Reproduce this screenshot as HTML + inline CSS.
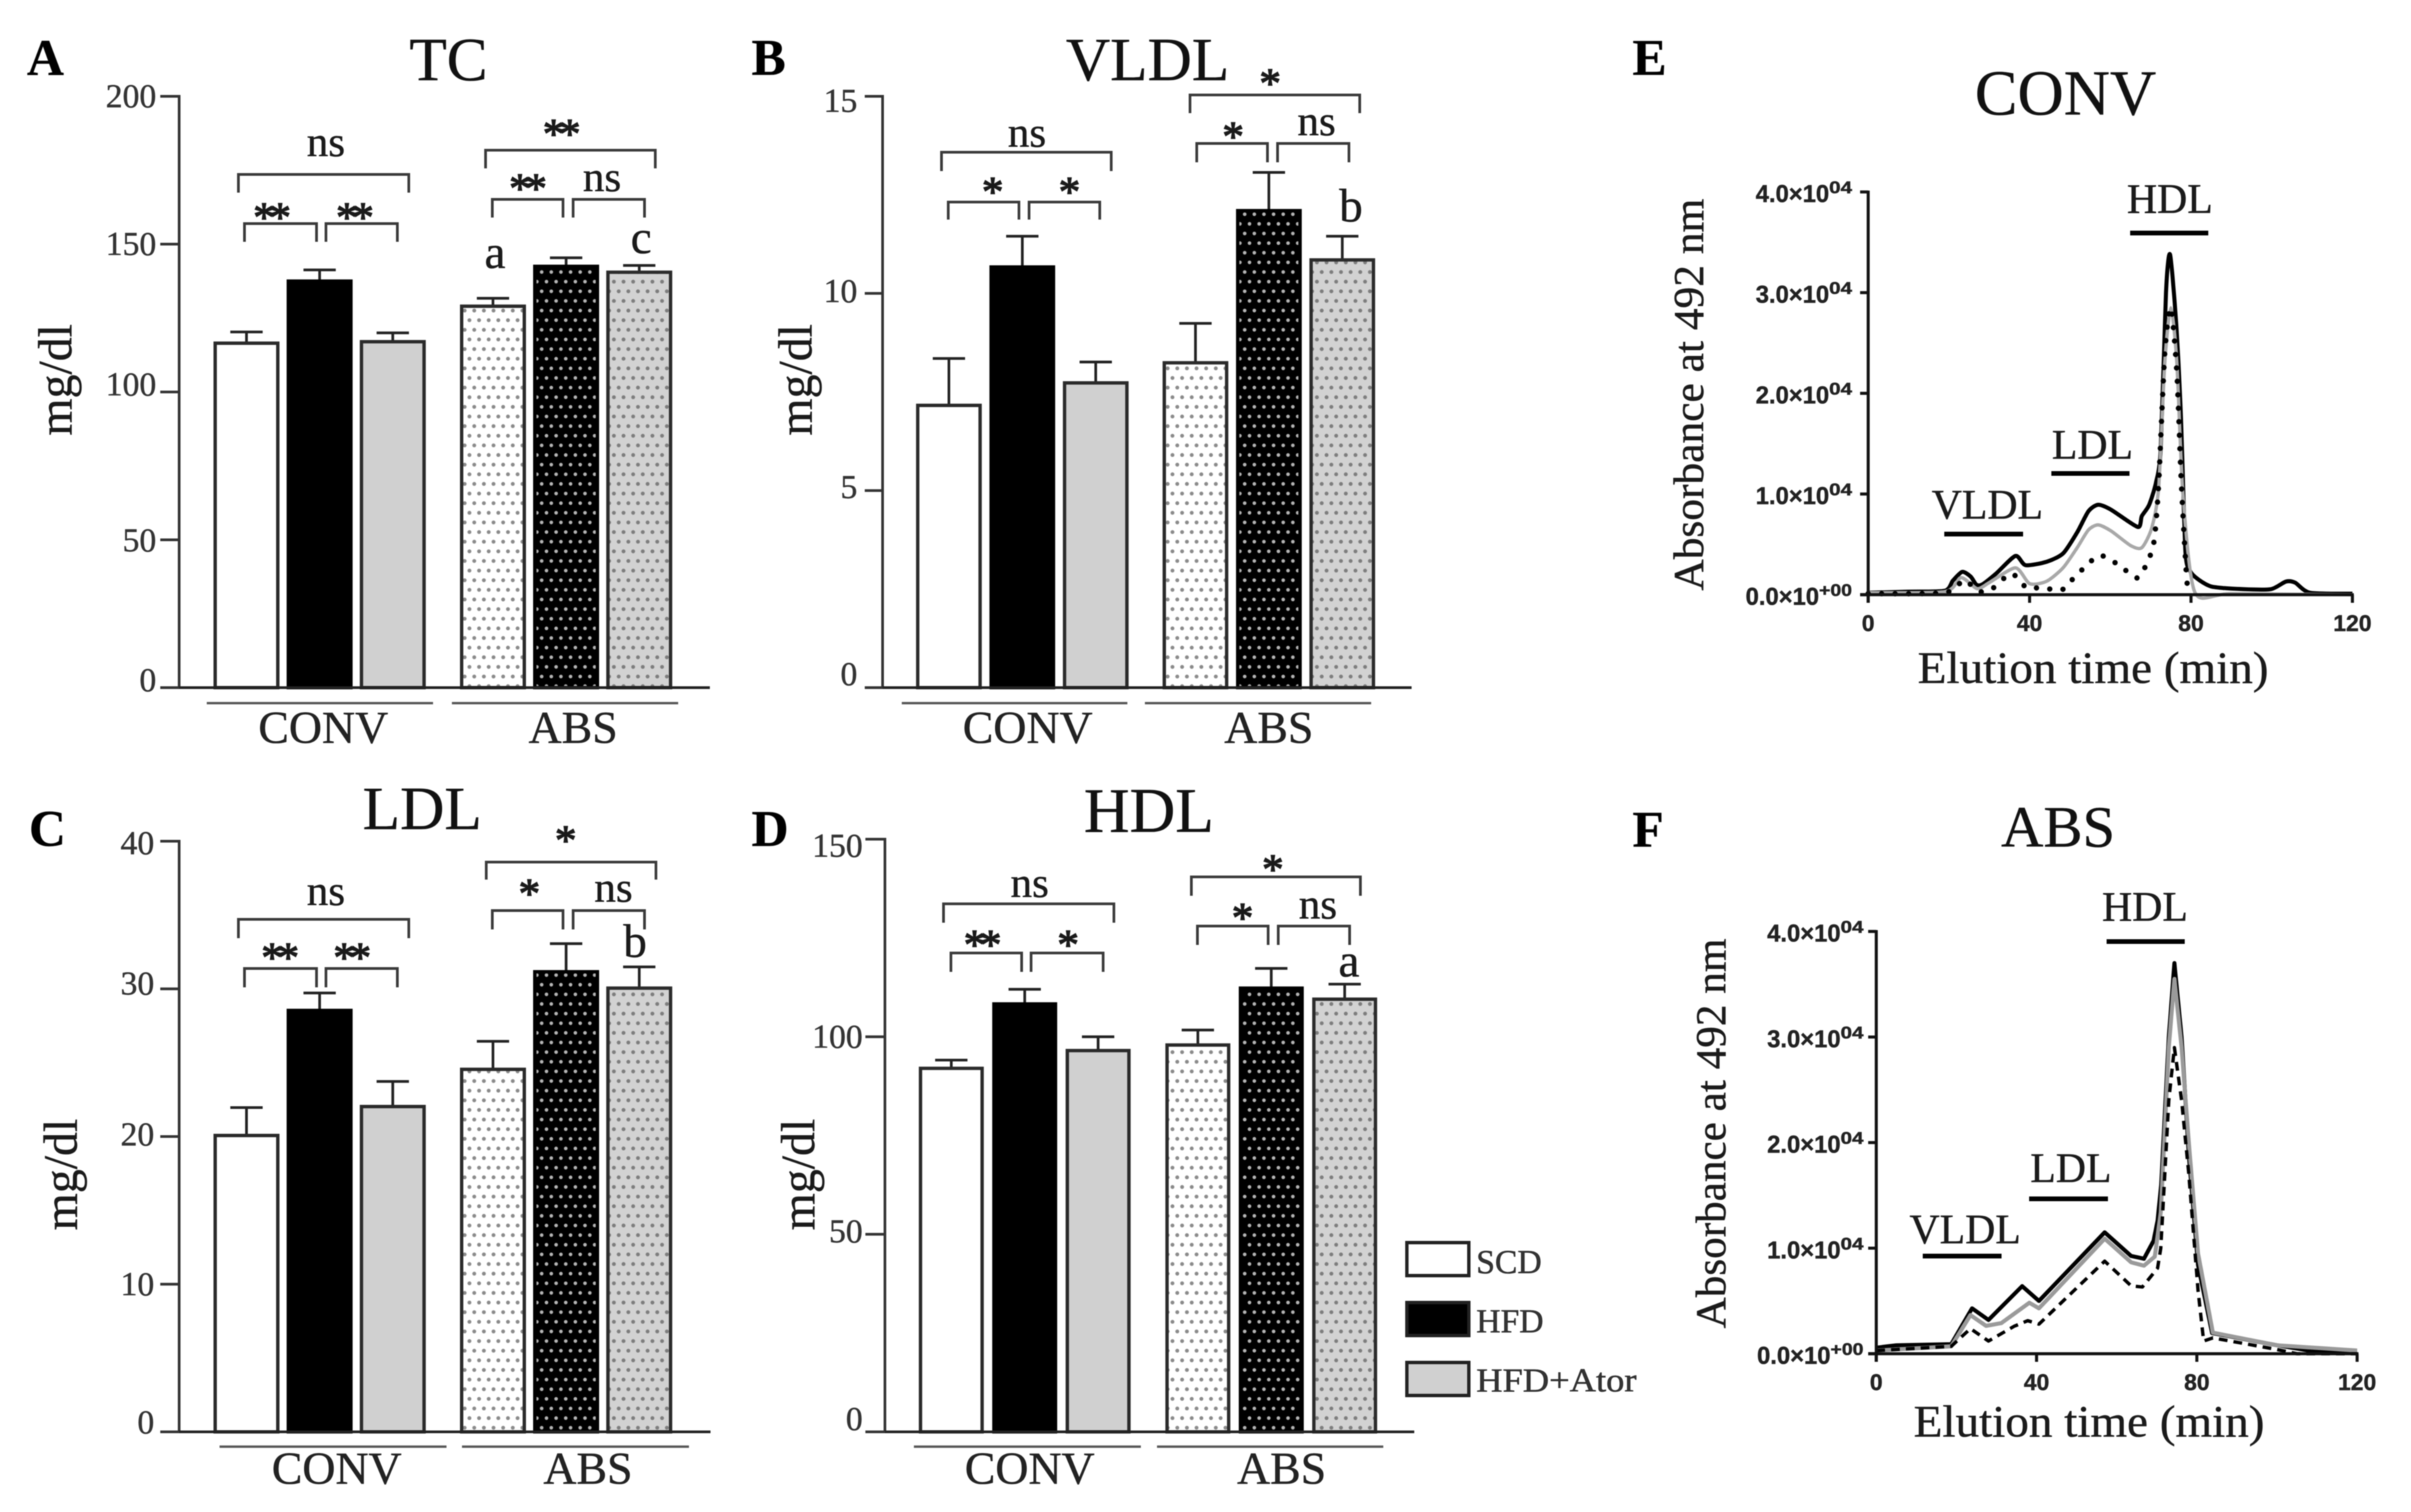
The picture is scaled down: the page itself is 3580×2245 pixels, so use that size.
<!DOCTYPE html>
<html lang="en">
<head>
<meta charset="utf-8">
<title>Lipid profile bar charts and elution profiles</title>
<style>
html,body{margin:0;padding:0;background:#fff;}
body{width:3580px;height:2245px;overflow:hidden;}
svg{display:block;filter:blur(0.9px);}
text{font-family:"Liberation Serif",serif;fill:#1a1a1a;stroke:#1a1a1a;stroke-width:0.6;}
.letter{font-size:76px;font-weight:bold;fill:#000;}
.title{font-size:91px;text-anchor:middle;fill:#111;}
.ylab{font-size:71px;text-anchor:middle;}
.abs{font-size:63px;text-anchor:middle;}
.elu{font-size:67px;text-anchor:middle;}
.group{font-size:68px;text-anchor:middle;fill:#222;}
.ns{font-size:64px;text-anchor:middle;}
.star{font-size:64px;text-anchor:middle;letter-spacing:-8px;stroke-width:1.8;}
.sig{font-size:70px;text-anchor:middle;}
.frac{font-size:60px;text-anchor:middle;}
.leg{font-size:50px;fill:#333;}
.tick{font-size:50px;text-anchor:end;fill:#333;stroke:#333;}
.brk{fill:none;stroke:#3a3a3a;stroke-width:4;}
.grp{stroke:#555;stroke-width:3.5;}
.bar-line{stroke:#000;stroke-width:7;}
.btick{font-family:"Liberation Sans",sans-serif;font-weight:bold;fill:#222;stroke:#222;}
</style>
</head>
<body>
<svg id="fig" xmlns="http://www.w3.org/2000/svg" width="3580" height="2245" viewBox="0 0 3580 2245">
<defs>
<pattern id="dotWhite" patternUnits="userSpaceOnUse" width="14.3" height="28.6"><rect width="14.3" height="28.6" fill="#fff"/><circle cx="3.5" cy="3.5" r="2.9" fill="#8a8a8a"/><circle cx="10.65" cy="17.8" r="2.9" fill="#8a8a8a"/></pattern>
<pattern id="dotBlack" patternUnits="userSpaceOnUse" width="14.3" height="28.6"><rect width="14.3" height="28.6" fill="#000"/><circle cx="3.5" cy="3.5" r="2.7" fill="#b5b5b5"/><circle cx="10.65" cy="17.8" r="2.7" fill="#b5b5b5"/></pattern>
<pattern id="dotGray" patternUnits="userSpaceOnUse" width="14.3" height="28.6"><rect width="14.3" height="28.6" fill="#d2d2d2"/><circle cx="3.5" cy="3.5" r="2.9" fill="#7d7d7d"/><circle cx="10.65" cy="17.8" r="2.9" fill="#7d7d7d"/></pattern>
</defs>

<rect width="3580" height="2245" fill="#fff"/>

<!-- Panel A static text and annotations -->
<g>
<text class="letter" x="40" y="111">A</text>
<text class="title" x="666" y="119">TC</text>
<text class="ylab" transform="translate(106,564) rotate(-90)">mg/dl</text>
<path class="brk" d="M354 286V259H607V286"/>
<path class="brk" d="M363 359V332H470V359"/>
<path class="brk" d="M484 359V332H590V359"/>
<path class="brk" d="M721 250V223H973V250"/>
<path class="brk" d="M731 323V296H836V323"/>
<path class="brk" d="M851 323V296H957V323"/>
<text class="ns" x="484" y="232">ns</text>
<text class="star" x="400" y="344">**</text>
<text class="star" x="523" y="344">**</text>
<text class="star" x="830" y="220">**</text>
<text class="star" x="780" y="301">**</text>
<text class="ns" x="894" y="284">ns</text>
<text class="sig" x="735" y="398">a</text>
<text class="sig" x="952" y="376">c</text>
<line class="grp" x1="307" y1="1044" x2="643" y2="1044"/>
<line class="grp" x1="671" y1="1044" x2="1007" y2="1044"/>
<text class="group" x="480" y="1103">CONV</text>
<text class="group" x="851" y="1103">ABS</text>
</g>

<!-- Panel B -->
<g>
<text class="letter" x="1116" y="111">B</text>
<text class="title" x="1704" y="119">VLDL</text>
<text class="ylab" transform="translate(1205,564) rotate(-90)">mg/dl</text>
<path class="brk" d="M1398 254V226H1650V254"/>
<path class="brk" d="M1408 326V300H1513V326"/>
<path class="brk" d="M1528 326V300H1633V326"/>
<path class="brk" d="M1767 168V141H2019V168"/>
<path class="brk" d="M1777 241V213H1882V241"/>
<path class="brk" d="M1897 241V213H2003V241"/>
<text class="ns" x="1525" y="218">ns</text>
<text class="star" x="1470" y="306">*</text>
<text class="star" x="1584" y="306">*</text>
<text class="star" x="1882" y="145">*</text>
<text class="star" x="1827" y="224">*</text>
<text class="ns" x="1955" y="201">ns</text>
<text class="sig" x="2006" y="329">b</text>
<line class="grp" x1="1339" y1="1044" x2="1674" y2="1044"/>
<line class="grp" x1="1700" y1="1044" x2="2036" y2="1044"/>
<text class="group" x="1526" y="1103">CONV</text>
<text class="group" x="1884" y="1103">ABS</text>
</g>

<!-- Panel C -->
<g>
<text class="letter" x="43" y="1256">C</text>
<text class="title" x="627" y="1231">LDL</text>
<text class="ylab" transform="translate(114,1744) rotate(-90)">mg/dl</text>
<path class="brk" d="M354 1393V1365H607V1393"/>
<path class="brk" d="M363 1466V1438H470V1466"/>
<path class="brk" d="M484 1466V1438H590V1466"/>
<path class="brk" d="M722 1306V1280H974V1306"/>
<path class="brk" d="M731 1380V1352H836V1380"/>
<path class="brk" d="M851 1380V1352H957V1380"/>
<text class="ns" x="484" y="1344">ns</text>
<text class="star" x="412" y="1443">**</text>
<text class="star" x="519" y="1443">**</text>
<text class="star" x="836" y="1269">*</text>
<text class="star" x="782" y="1348">*</text>
<text class="ns" x="911" y="1339">ns</text>
<text class="sig" x="943" y="1421">b</text>
<line class="grp" x1="326" y1="2148" x2="663" y2="2148"/>
<line class="grp" x1="686" y1="2148" x2="1023" y2="2148"/>
<text class="group" x="500" y="2203">CONV</text>
<text class="group" x="873" y="2203">ABS</text>
</g>

<!-- Panel D -->
<g>
<text class="letter" x="1116" y="1256">D</text>
<text class="title" x="1706" y="1235" style="font-size:94px">HDL</text>
<text class="ylab" transform="translate(1209,1744) rotate(-90)">mg/dl</text>
<path class="brk" d="M1401 1370V1342H1654V1370"/>
<path class="brk" d="M1412 1443V1415H1517V1443"/>
<path class="brk" d="M1531 1443V1415H1638V1443"/>
<path class="brk" d="M1769 1330V1302H2020V1330"/>
<path class="brk" d="M1778 1403V1375H1883V1403"/>
<path class="brk" d="M1898 1403V1375H2004V1403"/>
<text class="ns" x="1529" y="1332">ns</text>
<text class="star" x="1455" y="1424">**</text>
<text class="star" x="1582" y="1424">*</text>
<text class="star" x="1886" y="1312">*</text>
<text class="star" x="1841" y="1384">*</text>
<text class="ns" x="1957" y="1364">ns</text>
<text class="sig" x="2003" y="1450">a</text>
<line class="grp" x1="1357" y1="2148" x2="1694" y2="2148"/>
<line class="grp" x1="1718" y1="2148" x2="2054" y2="2148"/>
<text class="group" x="1529" y="2203">CONV</text>
<text class="group" x="1903" y="2203">ABS</text>
</g>

<!-- Legend -->
<g>
<g>
<rect x="2089" y="1845" width="92" height="49" fill="#fff" stroke="#222" stroke-width="5"/>
<text class="leg" x="2192" y="1890">SCD</text>
</g>
<g>
<rect x="2089" y="1934" width="92" height="49" fill="#000" stroke="#222" stroke-width="5"/>
<text class="leg" x="2192" y="1978">HFD</text>
</g>
<g>
<rect x="2089" y="2023" width="92" height="49" fill="#d0d0d0" stroke="#222" stroke-width="5"/>
<text class="leg" x="2192" y="2066" textLength="238" lengthAdjust="spacingAndGlyphs">HFD+Ator</text>
</g>
</g>

<!-- Panel E -->
<g>
<text class="letter" x="2424" y="111">E</text>
<text class="title" x="3067" y="170" style="font-size:95px">CONV</text>
<text class="abs" transform="translate(2529,586) rotate(-90)" textLength="582" lengthAdjust="spacingAndGlyphs">Absorbance at 492 nm</text>
<text class="elu" x="3108" y="1014" textLength="521" lengthAdjust="spacingAndGlyphs">Elution time (min)</text>
<text class="frac" x="2951" y="770" style="font-size:62px">VLDL</text>
<line class="bar-line" x1="2887" y1="793" x2="3004" y2="793"/>
<text class="frac" x="3107" y="681" style="font-size:62px">LDL</text>
<line class="bar-line" x1="3046" y1="703" x2="3162" y2="703"/>
<text class="frac" x="3222" y="316" style="font-size:62px">HDL</text>
<line class="bar-line" x1="3163" y1="346" x2="3279" y2="346"/>
</g>

<!-- Panel F -->
<g>
<text class="letter" x="2424" y="1257">F</text>
<text class="title" x="3056" y="1257" style="font-size:87px">ABS</text>
<text class="abs" transform="translate(2562,1683) rotate(-90)" textLength="579" lengthAdjust="spacingAndGlyphs">Absorbance at 492 nm</text>
<text class="elu" x="3102" y="2133" textLength="521" lengthAdjust="spacingAndGlyphs">Elution time (min)</text>
<text class="frac" x="2918" y="1846" style="font-size:62px">VLDL</text>
<line class="bar-line" x1="2855" y1="1865" x2="2972" y2="1865"/>
<text class="frac" x="3075" y="1755" style="font-size:62px">LDL</text>
<line class="bar-line" x1="3013" y1="1780" x2="3130" y2="1780"/>
<text class="frac" x="3185" y="1367" style="font-size:62px">HDL</text>
<line class="bar-line" x1="3128" y1="1398" x2="3244" y2="1398"/>
</g>
</svg>

<script>
// ---------- Bar chart data ----------
const treatments = ['SCD', 'HFD', 'HFD+Ator', 'SCD', 'HFD', 'HFD+Ator'];
const cohorts = ['conv', 'conv', 'conv', 'abs', 'abs', 'abs'];

const tcMeans = [116.5, 137.5, 117, 129, 142.5, 140.5];
const tcUpper = [120.3, 141.3, 120, 131.7, 145.4, 142.8];
const tcTicks = [0, 50, 100, 150, 200];

const vldlMeans = [7.16, 10.67, 7.73, 8.24, 12.1, 10.85];
const vldlUpper = [8.35, 11.45, 8.26, 9.24, 13.07, 11.45];
const vldlTicks = [0, 5, 10, 15];

const ldlMeans = [20.07, 28.54, 22.03, 24.55, 31.16, 30.05];
const ldlUpper = [21.96, 29.72, 23.73, 26.45, 33.06, 31.49];
const ldlTicks = [0, 10, 20, 30, 40];

const hdlMeans = [92, 108.3, 96.5, 97.9, 112.3, 109.5];
const hdlUpper = [94.1, 112, 100, 101.7, 117.3, 113.3];
const hdlTicks = [0, 50, 100, 150];

// ---------- Elution profile data: time in min, absorbance in units of 1e4 ----------
const elutionXTicks = [0, 40, 80, 120];
const elutionYTicks = [0, 1, 2, 3, 4];
const elutionYLabels = ['0.0×10', '1.0×10', '2.0×10', '3.0×10', '4.0×10'];
const elutionYExps = ['+00', '04', '04', '04', '04'];

const convHfdTime = [0, 10, 19, 21, 23.3, 25.4, 26.8, 28.2, 31.7, 36.5, 39, 44.2, 48.3, 51.8, 54.6, 57, 60.2, 66.8, 67.8, 69.6, 71.3, 72.5, 73.8, 74.8, 76.3, 77.5, 78.6, 79.7, 81.7, 85.2, 92.9, 99.8, 103.5, 105.8, 109.5, 120];
const convHfdAbs = [0.02, 0.03, 0.04, 0.14, 0.227, 0.18, 0.1, 0.1, 0.21, 0.385, 0.293, 0.327, 0.41, 0.62, 0.83, 0.893, 0.844, 0.673, 0.78, 0.89, 1.11, 1.45, 3.0, 3.38, 2.71, 1.77, 0.44, 0.24, 0.155, 0.08, 0.055, 0.055, 0.13, 0.12, 0.02, 0.01];

const convAtorTime = [0, 19, 23, 27, 30, 36.5, 40, 44.2, 48.3, 51.8, 54.6, 57, 60.2, 65, 67.8, 70.3, 72, 73.5, 75, 76.5, 78, 81, 90, 120];
const convAtorAbs = [0.02, 0.03, 0.17, 0.06, 0.12, 0.267, 0.11, 0.133, 0.267, 0.467, 0.644, 0.693, 0.633, 0.489, 0.467, 0.667, 1.07, 2.3, 2.85, 2.3, 1.0, 0.02, 0.01, 0];

const convScdTime = [0, 19, 23.6, 26, 28.2, 31, 35.5, 39.3, 42.8, 47.7, 49.7, 53.2, 57.4, 62.3, 66.8, 69.9, 71, 72, 73.5, 75, 76.5, 77.6, 79, 80];
const convScdAbs = [0.01, 0.02, 0.144, 0.078, 0.027, 0.067, 0.21, 0.067, 0.07, 0.044, 0.115, 0.255, 0.39, 0.29, 0.167, 0.39, 0.578, 1.11, 2.4, 2.85, 2.2, 1.11, 0.13, 0.02];

const absHfdTime = [0, 5, 18.7, 23.9, 28, 36.4, 40.6, 57, 63.6, 66.8, 69.2, 70.2, 71.1, 73, 74.4, 76.2, 78, 80.3, 83.8, 100, 108, 120];
const absHfdAbs = [0.057, 0.08, 0.09, 0.43, 0.32, 0.64, 0.5, 1.15, 0.926, 0.9, 1.07, 1.26, 1.6, 3.0, 3.7, 3.0, 1.88, 0.84, 0.196, 0.08, 0.03, 0.02];

const absAtorTime = [0, 18.7, 23.5, 27.4, 31.2, 38.2, 40.6, 57, 63.6, 66.8, 69.5, 71, 73, 74.4, 76.2, 78, 80.3, 84, 100, 120];
const absAtorAbs = [0.03, 0.07, 0.366, 0.264, 0.29, 0.483, 0.43, 1.09, 0.866, 0.834, 0.92, 1.34, 2.9, 3.55, 2.9, 2.0, 0.95, 0.2, 0.08, 0.03];

const absScdTime = [0, 18.7, 23.5, 28, 34.4, 37.8, 40.6, 57, 63.6, 66.4, 70.2, 71, 73, 74.4, 76.2, 78, 80.3, 81.7, 84, 100, 105, 120];
const absScdAbs = [0.03, 0.07, 0.238, 0.12, 0.26, 0.313, 0.28, 0.877, 0.643, 0.632, 0.81, 1.0, 2.4, 2.9, 2.4, 1.7, 0.6, 0.12, 0.15, 0.04, 0, 0];

// ---------- Drawing ----------
const SVGNS = 'http://www.w3.org/2000/svg';
const fig = document.getElementById('fig');

function node(parent, tag, props) {
  const el = document.createElementNS(SVGNS, tag);
  for (const k in props) el.setAttribute(k, props[k]);
  parent.appendChild(el);
  return el;
}

function drawBarPanel(id, means, upper, ticks, p) {
  const g = node(fig, 'g', {});
  
  
  const maxV = ticks[ticks.length - 1];
  const yScale = v => p.bottom - (v / maxV) * (p.bottom - p.top);
  const xLeft = i => p.starts[cohorts[i] === 'conv' ? 0 : 1] + (i % 3) * p.step;

  means.forEach((m, i) => {
    const cx = xLeft(i) + p.width / 2;
    const err = node(g, 'path', {
      d: `M${cx} ${yScale(m)}V${yScale(upper[i])}M${cx - 24} ${yScale(upper[i])}H${cx + 24}`,
      fill: 'none', stroke: '#222', 'stroke-width': 4
    });
    
    

    const isAbs = cohorts[i] === 'abs';
    const t = treatments[i];
    let fill;
    if (t === 'SCD') fill = isAbs ? 'url(#dotWhite)' : '#fff';
    else if (t === 'HFD') fill = isAbs ? 'url(#dotBlack)' : '#000';
    else fill = isAbs ? 'url(#dotGray)' : '#d0d0d0';
    const bar = node(g, 'rect', {
      x: xLeft(i) + 2.5, y: yScale(m), width: p.width - 5, height: p.bottom - yScale(m),
      fill: fill, stroke: t === 'HFD' ? '#000' : '#2a2a2a', 'stroke-width': 5
    });
    
    
  });

  const axisY = node(g, 'line', { x1: p.axisX, y1: p.top - 2, x2: p.axisX, y2: p.bottom, stroke: '#333', 'stroke-width': 4 });
  
  
  const axisX = node(g, 'line', { x1: p.tickLeft, y1: p.bottom, x2: p.xEnd, y2: p.bottom, stroke: '#222', 'stroke-width': 4 });
  
  

  ticks.forEach((v, i) => {
    const tk = node(g, 'line', { x1: p.tickLeft, y1: yScale(v), x2: p.axisX, y2: yScale(v), stroke: '#333', 'stroke-width': 4 });
    
    
    const lab = node(g, 'text', { x: p.labelRight, y: yScale(v) + p.labelDy[i], class: 'tick' });
    
    
    lab.textContent = String(v);
  });
}

drawBarPanel('tc', tcMeans, tcUpper, tcTicks, {
  top: 143, bottom: 1021, axisX: 266, tickLeft: 238, xEnd: 1054, labelRight: 232,
  labelDy: [5, 17, 5, 16, 16], starts: [317, 683], step: 108.6, width: 98
});
drawBarPanel('vldl', vldlMeans, vldlUpper, vldlTicks, {
  top: 143, bottom: 1021, axisX: 1310.5, tickLeft: 1284, xEnd: 2096, labelRight: 1273,
  labelDy: [-4, 11, 13, 23], starts: [1360.2, 1726.3], step: 109, width: 97.6
});
drawBarPanel('ldl', ldlMeans, ldlUpper, ldlTicks, {
  top: 1249, bottom: 2126, axisX: 266, tickLeft: 238, xEnd: 1055, labelRight: 229,
  labelDy: [2, 16, 13, 8, 19], starts: [317, 683], step: 108.6, width: 98
});
drawBarPanel('hdl', hdlMeans, hdlUpper, hdlTicks, {
  top: 1246, bottom: 2126, axisX: 1314, tickLeft: 1285, xEnd: 2100, labelRight: 1281,
  labelDy: [-3, 12, 16, 26], starts: [1364.3, 1730.4], step: 109, width: 96.5
});

function smoothPath(pts) {
  let d = `M${pts[0][0]} ${pts[0][1]}`;
  for (let i = 0; i < pts.length - 1; i++) {
    const p0 = pts[Math.max(i - 1, 0)], p1 = pts[i], p2 = pts[i + 1], p3 = pts[Math.min(i + 2, pts.length - 1)];
    const t = 0.12;
    d += `C${p1[0] + (p2[0] - p0[0]) * t} ${p1[1] + (p2[1] - p0[1]) * t} ${p2[0] - (p3[0] - p1[0]) * t} ${p2[1] - (p3[1] - p1[1]) * t} ${p2[0]} ${p2[1]}`;
  }
  return d;
}

function drawElutionPanel(id, series, p) {
  const g = node(fig, 'g', {});
  
  
  const xScale = t => p.x0 + (t / 120) * (p.x1 - p.x0);
  const yScale = v => p.y0 - (v / 4) * (p.y0 - p.yTop);

  series.forEach(s => {
    const pts = s.time.map((t, i) => [xScale(t), yScale(s.abs[i])]);
    const d = p.smooth ? smoothPath(pts) : 'M' + pts.map(q => q[0] + ' ' + q[1]).join('L');
    const line = node(g, 'path', {
      d: d, fill: 'none', stroke: s.color, 'stroke-width': s.width,
      'stroke-linejoin': 'round', 'stroke-linecap': s.cap, 'stroke-dasharray': s.dash
    });
    
    
  });

  const axisY = node(g, 'line', { x1: p.x0, y1: p.yTop - 2, x2: p.x0, y2: p.y0 + 12, stroke: '#111', 'stroke-width': 4.5 });
  
  
  const axisX = node(g, 'line', { x1: p.x0 - 12, y1: p.y0, x2: p.x1 + 2, y2: p.y0, stroke: '#111', 'stroke-width': 4.5 });
  
  

  elutionXTicks.forEach(v => {
    const tk = node(g, 'line', { x1: xScale(v), y1: p.y0, x2: xScale(v), y2: p.y0 + 12, stroke: '#111', 'stroke-width': 4.5 });
    
    
    const lab = node(g, 'text', { x: xScale(v), y: p.xLabelY, 'text-anchor': 'middle', class: 'btick', 'font-size': 34 });
    
    
    lab.textContent = String(v);
  });

  elutionYTicks.forEach((v, i) => {
    const y = yScale(v);
    const tk = node(g, 'line', { x1: p.x0 - 12, y1: y, x2: p.x0, y2: y, stroke: '#111', 'stroke-width': 4.5 });
    
    
    const exp = elutionYExps[i];
    const expW = exp.length === 3 ? 49 : 34;
    const main = node(g, 'text', {
      x: p.yLabelRight - expW - 109, y: y + 15, class: 'btick', 'font-size': 36,
      textLength: 109, lengthAdjust: 'spacingAndGlyphs'
    });
    
    
    main.textContent = elutionYLabels[i];
    const sup = node(g, 'text', {
      x: p.yLabelRight - expW, y: y + 2, class: 'btick', 'font-size': 25,
      textLength: expW, lengthAdjust: 'spacingAndGlyphs'
    });
    
    
    sup.textContent = exp;
  });
}

drawElutionPanel('conv', [
  { name: 'series-hfd-conv', time: convHfdTime, abs: convHfdAbs, color: '#000', width: 6, cap: 'butt', dash: 'none' },
  { name: 'series-hfd-ator-conv', time: convAtorTime, abs: convAtorAbs, color: '#a8a8a8', width: 5, cap: 'butt', dash: 'none' },
  { name: 'series-scd-conv', time: convScdTime, abs: convScdAbs, color: '#000', width: 8, cap: 'round', dash: '0 20' }
], { x0: 2774, x1: 3493, y0: 883, yTop: 285, xLabelY: 937, yLabelRight: 2750, smooth: true });

drawElutionPanel('abs', [
  { name: 'series-hfd-abs', time: absHfdTime, abs: absHfdAbs, color: '#000', width: 6, cap: 'butt', dash: 'none' },
  { name: 'series-hfd-ator-abs', time: absAtorTime, abs: absAtorAbs, color: '#9a9a9a', width: 6, cap: 'butt', dash: 'none' },
  { name: 'series-scd-abs', time: absScdTime, abs: absScdAbs, color: '#000', width: 5, cap: 'butt', dash: '13 9' }
], { x0: 2786, x1: 3500, y0: 2010, yTop: 1383, xLabelY: 2064, yLabelRight: 2767, smooth: false });
</script>
</body>
</html>
